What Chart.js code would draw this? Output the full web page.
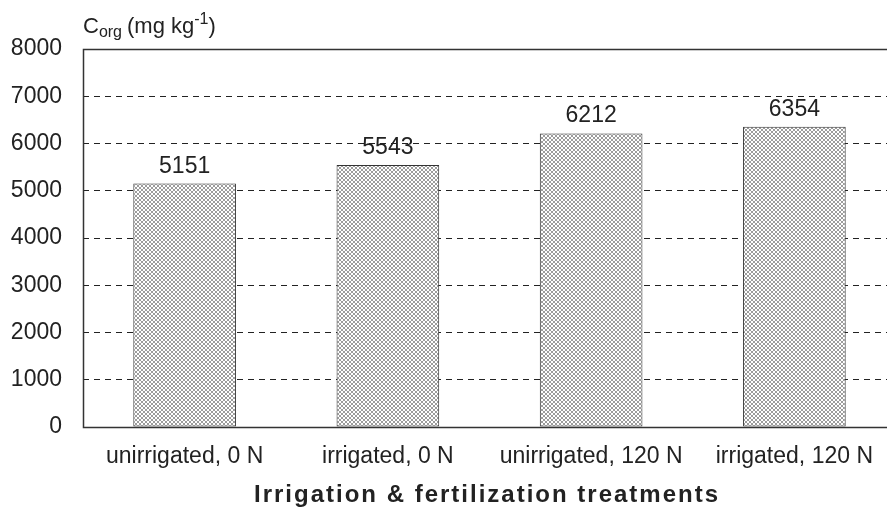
<!DOCTYPE html>
<html>
<head>
<meta charset="utf-8">
<script src="https://cdn.jsdelivr.net/npm/chart.js@4"></script>
<style>
  html, body { margin: 0; padding: 0; background: #fff; overflow: hidden; }
  #wrap { width: 887px; height: 510px; overflow: hidden; }
</style>
</head>
<body>
<div id="wrap"><canvas id="chart" width="896" height="510"></canvas></div>
<script>
  // data
  const treatments = ['unirrigated, 0 N', 'irrigated, 0 N', 'unirrigated, 120 N', 'irrigated, 120 N'];
  const corgValues = [5151, 5543, 6212, 6354];
  const yTicks = [0, 1000, 2000, 3000, 4000, 5000, 6000, 7000, 8000];

  const FONT = '"Liberation Sans", Arial, sans-serif';

  // cross-hatch fill for the bars
  function makeHatch() {
    const c = document.createElement('canvas');
    c.width = 4; c.height = 4;
    const g = c.getContext('2d');
    g.fillStyle = '#ffffff';
    g.fillRect(0, 0, 4, 4);
    g.fillStyle = '#9c9c9c';
    for (let i = 0; i < 4; i++) {
      g.fillRect(i, i, 1, 1);
      g.fillRect(3 - i, i, 1, 1);
    }
    return g.createPattern(c, 'repeat');
  }

  // value labels, frame and axis titles
  const extras = {
    id: 'extras',
    afterDatasetsDraw(chart) {
      const ctx = chart.ctx;
      const meta = chart.getDatasetMeta(0);
      ctx.save();
      ctx.fillStyle = '#222';
      ctx.font = '23px ' + FONT;
      ctx.textAlign = 'center';
      ctx.textBaseline = 'alphabetic';
      meta.data.forEach((bar, i) => {
        ctx.fillText(String(corgValues[i]), bar.x, bar.y - 11);
      });
      ctx.restore();
    },
    afterDraw(chart) {
      const ctx = chart.ctx;
      const a = chart.chartArea;
      ctx.save();
      ctx.strokeStyle = '#333';
      ctx.lineWidth = 1.5;
      ctx.beginPath();
      ctx.moveTo(a.right, a.top + 0.5);
      ctx.lineTo(a.left + 0.5, a.top + 0.5);
      ctx.lineTo(a.left + 0.5, a.bottom + 0.5);
      ctx.lineTo(a.right, a.bottom + 0.5);
      ctx.stroke();

      // y-axis title: C_org (mg kg^-1)
      ctx.fillStyle = '#222';
      ctx.textBaseline = 'alphabetic';
      ctx.textAlign = 'left';
      let x = 83;
      const base = 33;
      ctx.font = '22px ' + FONT;
      ctx.fillText('C', x, base); x += ctx.measureText('C').width;
      ctx.font = '16px ' + FONT;
      ctx.fillText('org', x, base + 4); x += ctx.measureText('org').width + 5;
      ctx.font = '22px ' + FONT;
      ctx.fillText('(mg kg', x, base); x += ctx.measureText('(mg kg').width;
      ctx.font = '16px ' + FONT;
      ctx.fillText('-1', x, base - 9); x += ctx.measureText('-1').width;
      ctx.font = '22px ' + FONT;
      ctx.fillText(')', x, base);

      // x-axis title
      ctx.font = 'bold 24px ' + FONT;
      ctx.letterSpacing = '2px';
      ctx.textAlign = 'center';
      ctx.fillText('Irrigation & fertilization treatments', 487, 502);
      ctx.restore();
    }
  };

  new Chart(document.getElementById('chart'), {
    type: 'bar',
    data: {
      labels: treatments,
      datasets: [{
        data: corgValues,
        backgroundColor: makeHatch(),
        borderColor: '#333',
        borderWidth: 1,
        borderSkipped: false,
        barPercentage: 0.505,
        categoryPercentage: 1
      }]
    },
    options: {
      responsive: false,
      animation: false,
      layout: { padding: { top: 49, right: 0, left: 0, bottom: 0 } },
      plugins: {
        legend: { display: false },
        tooltip: { enabled: false }
      },
      scales: {
        x: {
          grid: { display: false, drawTicks: false },
          border: { display: false },
          ticks: { color: '#222', font: { size: 23, family: FONT }, padding: 16, maxRotation: 0 },
          afterFit(scale) { scale.height = 83; }
        },
        y: {
          min: 0,
          max: 8000,
          afterBuildTicks(scale) { scale.ticks = yTicks.map(v => ({ value: v })); },
          grid: { color: '#222', lineWidth: 1, drawTicks: false },
          border: { display: false, dash: [6, 5] },
          ticks: {
            color: '#222',
            font: { size: 23, family: FONT },
            padding: 21,
            callback: v => String(v)
          },
          afterFit(scale) { scale.width = 83; }
        }
      }
    },
    plugins: [extras]
  });
</script>
</body>
</html>
